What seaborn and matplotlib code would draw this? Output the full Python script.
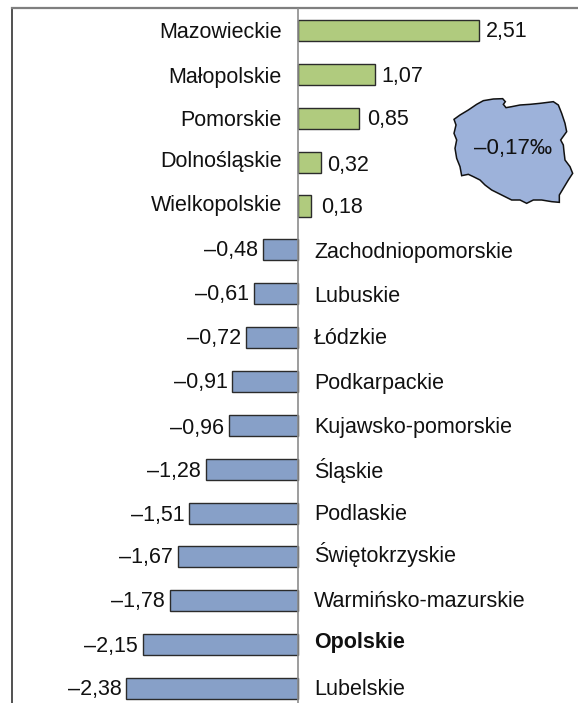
import matplotlib
matplotlib.use("Agg")
import matplotlib.pyplot as plt
import seaborn as sns
import pandas as pd

regions = ["Mazowieckie", "Małopolskie", "Pomorskie", "Dolnośląskie", "Wielkopolskie",
           "Zachodniopomorskie", "Lubuskie", "Łódzkie", "Podkarpackie", "Kujawsko-pomorskie",
           "Śląskie", "Podlaskie", "Świętokrzyskie", "Warmińsko-mazurskie", "Opolskie", "Lubelskie"]
values = [2.51, 1.07, 0.85, 0.32, 0.18, -0.48, -0.61, -0.72, -0.91, -0.96,
          -1.28, -1.51, -1.67, -1.78, -2.15, -2.38]
national_label = "–0,17‰"

# small per-label pixel nudges (style only)
name_dy = [2, 3, 2, -1, 0, 3, 3, 1, 2, 2, 1, 1, -2, 1, -2, 1]
value_dx = [7, 6, 8, 6, 10, 5, 5, 5, 5, 5, 5, 5, 5, 5, 5, 5]
value_dy = [1, 2, 1, 3, 2, 1, 1, 1, 1, 3, 2, 2, 1, 1, 2, 1]

# outline of the country, in its own inset coordinate frame
map_x = [42, 60, 85, 110, 130, 160, 188, 196, 190, 198, 215, 240, 270, 300, 340, 355, 365, 375, 380,
         362, 370, 372, 375, 390, 398, 385, 370, 358, 358, 335, 305, 280, 260, 240, 215,
         195, 175, 155, 135, 120, 100, 85, 65, 60, 50, 45, 50, 42, 48, 42]
map_y = [103, 90, 75, 58, 47, 42, 41, 50, 58, 68, 65, 60, 58, 55, 50, 60, 85, 115, 140,
         165, 180, 200, 225, 245, 265, 285, 310, 330, 352, 350, 345, 345, 355, 345, 345,
         335, 325, 315, 300, 285, 275, 268, 272, 245, 220, 190, 165, 145, 120, 103]

plt.rcParams["font.family"] = ["Liberation Sans", "DejaVu Sans"]
W, H = 578, 703
fig = plt.figure(figsize=(W / 100, H / 100), dpi=100, facecolor="white")
ax = fig.add_axes([12 / W, 0, (W - 12) / W, (H - 8) / H])

df = pd.DataFrame({"region": regions, "value": values,
                   "sign": ["up" if v > 0 else "down" for v in values]})
sns.barplot(data=df, y="region", x="value", hue="sign", dodge=False, orient="h",
            palette={"up": "#B0CB7E", "down": "#87A0C8"}, width=0.48, saturation=1,
            edgecolor="#2b2b2b", linewidth=1.0, legend=False, ax=ax)

ppu = 72.1
step = 43.87
ax.set_xlim((12 - 298) / ppu, (W - 298) / ppu)
ax.set_ylim((H - 30.5) / step, (8 - 30.5) / step)
ax.set_xticks([]); ax.set_yticks([])
ax.set_xlabel(""); ax.set_ylabel("")
for s in ("right", "bottom"):
    ax.spines[s].set_visible(False)
ax.spines["left"].set_color("#333333")
ax.spines["top"].set_color("#7f7f7f")
ax.spines["top"].set_linewidth(1.6)
ax.spines["left"].set_linewidth(1.2)
ax.axvline(0, color="#8c8c8c", lw=1.2, zorder=5)

fs = 15.5
for i, (name, v) in enumerate(zip(regions, values)):
    nx, ha = (-16, "right") if v > 0 else (16, "left")
    ax.annotate(name, (0, i), xytext=(nx, -name_dy[i]), textcoords="offset pixels",
                ha=ha, va="center", fontsize=fs,
                fontweight="bold" if name == "Opolskie" else "normal", color="#111111")
    txt = ("–" if v < 0 else "") + f"{abs(v):.2f}".replace(".", ",")
    dx = value_dx[i] if v > 0 else -value_dx[i]
    ax.annotate(txt, (v, i), xytext=(dx, -value_dy[i]), textcoords="offset pixels",
                ha="left" if v > 0 else "right", va="center", fontsize=fs, color="#111111")

m = fig.add_axes([440 / W, (H - 85 - 125) / H, 138 / W, 125 / H])
m.set_xlim(0, 414); m.set_ylim(375, 0); m.axis("off")
m.fill(map_x, map_y, facecolor="#9DB2DA", edgecolor="#111111", linewidth=1.1)
m.text(218, 190, national_label, ha="center", va="center", fontsize=16, color="#111111",
       family=["Liberation Sans", "DejaVu Sans"])

fig.savefig("out.png", dpi=100)
